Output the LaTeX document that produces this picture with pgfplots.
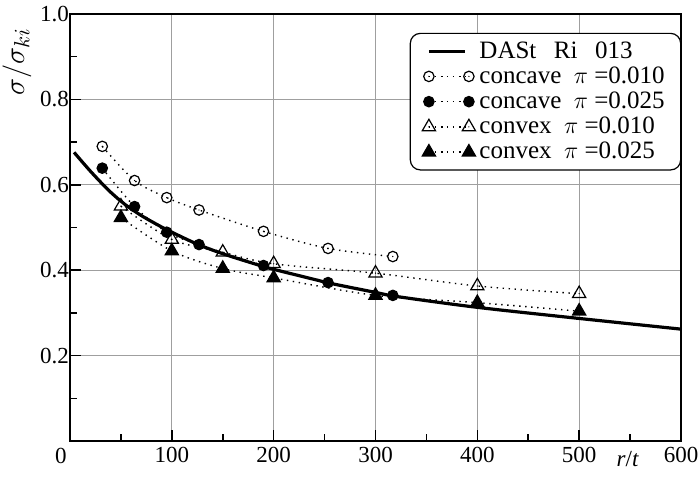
\documentclass[border=0pt]{standalone}
\usepackage{fontspec}
\setmainfont{Liberation Serif}
\usepackage{pgfplots}
\pgfplotsset{compat=1.18}

\pgfdeclareplotmark{odot}{%
  \pgfpathcircle{\pgfpointorigin}{\pgfplotmarksize}\pgfusepathqstroke
  \pgfpathcircle{\pgfpointorigin}{0.35pt}\pgfusepathqfill}
\pgfdeclareplotmark{tridot}{%
  \pgfpathmoveto{\pgfpointpolar{90}{\pgfplotmarksize}}%
  \pgfpathlineto{\pgfpointpolar{-30}{\pgfplotmarksize}}%
  \pgfpathlineto{\pgfpointpolar{210}{\pgfplotmarksize}}%
  \pgfpathclose\pgfusepathqstroke
  \pgfpathcircle{\pgfpointorigin}{0.35pt}\pgfusepathqfill}

\pgfplotsset{
  dotser/.style={black, line width=0.7pt, dash pattern=on 0.7pt off 2.3pt, smooth, tension=0.5,
    mark options={solid, line width=0.6pt},
    legend image code/.code={\draw[##1] plot coordinates {(0pt,0pt) (20pt,0pt)};}},
  mainser/.style={black, line width=1.6pt, smooth, tension=0.5,
    legend image code/.code={\draw[##1] (0pt,0pt) -- (18pt,0pt);}},
}

\begin{document}
\begin{tikzpicture}
\begin{axis}[
  scale only axis, width=305.5pt, height=213.5pt,
  xmin=0, xmax=600, ymin=0, ymax=1,
  xtick={0,100,200,300,400,500,600},
  xticklabels={,100,200,300,400,500,600},
  minor xtick={50,150,250,350,450,550},
  ytick={0.2,0.4,0.6,0.8,1.0},
  minor ytick={0.1,0.3,0.5,0.7,0.9},
  tick pos=left, tick align=inside,
  major tick length=5.5pt, minor tick length=3.5pt,
  tick style={black, line width=0.8pt},
  grid=major, major grid style={gray!75, line width=0.45pt},
  axis line style={line width=1pt},
  /pgf/number format/assume math mode=true,
  ticklabel style={font=\fontsize{11.5}{13}\selectfont},
  y tick label style={xshift=3pt},
  y tick label style={/pgf/number format/fixed, /pgf/number format/fixed zerofill, /pgf/number format/precision=1},
  x tick label style={yshift=0.5pt},
  ylabel={$\sigma/\sigma_{ki}$},
  ylabel style={at={(axis description cs:-0.087,0.888)}, anchor=center, font=\fontsize{15}{17}\selectfont},
  xlabel={\textit{r}/\textit{t}},
  xlabel style={at={(axis description cs:0.913,0)}, anchor=north, yshift=-1.5pt, font=\fontsize{11.5}{13}\selectfont},
  legend style={at={(0.556,0.956)}, anchor=north west, rounded corners=5pt,
    draw=black, line width=0.6pt, font=\fontsize{12.5}{14.5}\selectfont,
    row sep=-1.2pt, inner xsep=6pt, inner ysep=2pt},
  legend cell align=left,
]
\addplot[mainser] coordinates {
  (4,0.676) (20,0.632) (38,0.587) (54,0.554) (70,0.528) (87,0.505) (100,0.489)
  (126,0.460) (152,0.437) (188,0.410) (200,0.402) (244,0.376) (254,0.370)
  (300,0.348) (322,0.338) (400,0.313) (500,0.287) (600,0.262)};
\addlegendentry{DASt\hspace{0.7em}Ri\hspace{0.7em}013}

\addplot[dotser, mark=odot, mark size=2.6pt] coordinates {
  (31.7,0.690) (63.4,0.610) (95,0.570) (126.7,0.541) (190,0.491) (253.4,0.451) (317,0.432)};
\addlegendentry{concave~~$\pi$~=0.010}

\addplot[dotser, mark=*, mark size=2.6pt] coordinates {
  (31.7,0.639) (63.4,0.549) (95,0.489) (126.7,0.460) (190,0.411) (253.4,0.371) (317,0.341)};
\addlegendentry{concave~~$\pi$~=0.025}

\addplot[dotser, mark=tridot, mark size=3.8pt] coordinates {
  (50,0.550) (100,0.472) (150,0.442) (200,0.415) (300,0.393) (400,0.363) (500,0.345)};
\addlegendentry{convex~~$\pi$~=0.010}

\addplot[dotser, mark=triangle*, mark size=3.8pt] coordinates {
  (50,0.523) (100,0.445) (150,0.404) (200,0.382) (300,0.341) (400,0.324) (500,0.304)};
\addlegendentry{convex~~$\pi$~=0.025}
\end{axis}
\node[anchor=north east, inner sep=0pt, font=\fontsize{11.5}{13}\selectfont]
  at ([shift={(-1.5pt,-3.3pt)}]current axis.south west) {0};
\pgfresetboundingbox
\path ([shift={(-35pt,-17.5pt)}]current axis.south west) rectangle ([shift={(8.5pt,7pt)}]current axis.north east);
\end{tikzpicture}
\end{document}
